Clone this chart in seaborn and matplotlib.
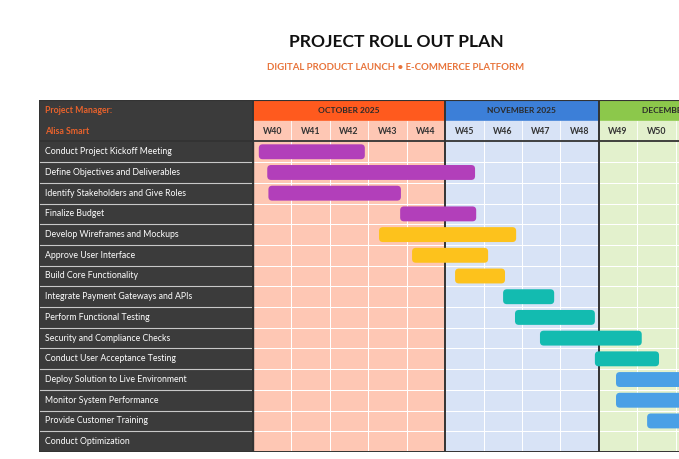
import numpy as np
import matplotlib
matplotlib.use("Agg")
import matplotlib.pyplot as plt
import seaborn as sns
from matplotlib.colors import ListedColormap
from matplotlib.patches import Rectangle, FancyBboxPatch

# data
tasks = ["Conduct Project Kickoff Meeting", "Define Objectives and Deliverables",
         "Identify Stakeholders and Give Roles", "Finalize Budget",
         "Develop Wireframes and Mockups", "Approve User Interface",
         "Build Core Functionality", "Integrate Payment Gateways and APIs",
         "Perform Functional Testing", "Security and Compliance Checks",
         "Conduct User Acceptance Testing", "Deploy Solution to Live Environment",
         "Monitor System Performance", "Provide Customer Training",
         "Conduct Optimization"]
start_wk = [0.15, 0.37, 0.40, 3.83, 3.28, 4.14, 5.26, 6.51, 6.82, 7.47, 8.90, 9.45, 9.45, 10.26, 11.30]
end_wk = [2.91, 5.78, 3.85, 5.81, 6.85, 6.12, 6.56, 7.84, 8.90, 10.12, 10.57, 11.60, 12.80, 12.00, 12.90]
phase = [0, 0, 0, 0, 1, 1, 1, 2, 2, 2, 2, 3, 3, 3, 3]
weeks = ["W40", "W41", "W42", "W43", "W44", "W45", "W46", "W47", "W48", "W49", "W50", "W51", "W52"]
months = ["OCTOBER 2025", "NOVEMBER 2025", "DECEMBER 2025"]
month_weeks = [5, 4, 4]

bar_cols = ["#b23fba", "#fdc21c", "#13bbb0", "#4aa0e6"]
month_cols = ["#ff5a1e", "#3c7fd8", "#8cc84b"]
light_cols = ["#fec7b4", "#d8e3f6", "#e3f1cd"]
panel = "#3b3b3b"
orange = "#e8622c"

month_idx = np.repeat(np.arange(len(months)), month_weeks)
grid = np.tile(month_idx, (len(tasks), 1))

fig = plt.figure(figsize=(6.79, 4.59), dpi=100)
ax = fig.add_axes([39/679, 7/459, 640/679, 352/459])
sns.heatmap(grid, ax=ax, cmap=ListedColormap(light_cols), vmin=-0.5, vmax=2.5,
            cbar=False, linewidths=0.6, linecolor="white",
            xticklabels=False, yticklabels=False)
x0 = -214/38.4
ax.set_xlim(x0, 11.09)
ax.set_ylim(len(tasks), -2)
ax.axis("off")

# label panel
ax.add_patch(Rectangle((x0, -2), -x0, len(tasks) + 2, color=panel, zorder=2))
for i in range(1, len(tasks)):
    ax.plot([x0, 0], [i, i], color="#c8c8c8", lw=0.8, zorder=3)
for i, t in enumerate(tasks):
    ax.text(x0 + 0.16, i + 0.5, t, color="white", fontsize=6.3, va="center",
            family="Lato", zorder=4)
ax.text(x0 + 0.16, -1.5, "Project Manager:", color=orange, fontsize=6.3,
        fontweight="bold", va="center", family="Lato", zorder=4)
ax.text(x0 + 0.16, -0.5, "Alisa Smart", color=orange, fontsize=6.3,
        fontweight="bold", va="center", family="Lato", zorder=4)

# header
pos = 0
for m, n, c, lc in zip(months, month_weeks, month_cols, light_cols):
    ax.add_patch(Rectangle((pos, -2), n, 1, color=c, zorder=2))
    ax.add_patch(Rectangle((pos, -1), n, 1, color=lc, zorder=2))
    ax.text(pos + n/2, -1.5, m, ha="center", va="center", fontsize=6,
            fontweight="bold", color="#2a2a2a", family="Lato", zorder=4)
    pos += n
for k, w in enumerate(weeks):
    ax.text(k + 0.5, -0.5, w, ha="center", va="center", fontsize=6.3,
            fontweight="bold", color="#333333", family="Lato", zorder=4)
    if k > 0:
        ax.plot([k, k], [-1, 0], color="white", lw=0.6, zorder=3)

# borders
for b in np.cumsum([0] + month_weeks[:-1]):
    ax.plot([b, b], [-2, len(tasks)], color="#333333", lw=1.4, zorder=5)
ax.plot([x0, 13], [0, 0], color="#333333", lw=1.3, zorder=5)
ax.plot([x0, 13], [len(tasks), len(tasks)], color="#333333", lw=1.4, zorder=5)
ax.plot([x0, 13], [-2, -2], color="#333333", lw=0.8, zorder=5)
ax.plot([x0, x0], [-2, len(tasks)], color="#333333", lw=1.4, zorder=5)

# bars
h = 0.72
for i in range(len(tasks)):
    ax.add_patch(FancyBboxPatch((start_wk[i], i + 0.5 - h/2), end_wk[i] - start_wk[i], h,
                                boxstyle="round,pad=0,rounding_size=0.1",
                                mutation_aspect=1.85, color=bar_cols[phase[i]],
                                lw=0, zorder=6))

fig.text(396/679, 1 - 42/459, "PROJECT ROLL OUT PLAN", ha="center", va="center",
         fontsize=12.6, fontweight="bold", family="Lato", color="#111111")
fig.text(396/679, 1 - 67/459, "DIGITAL PRODUCT LAUNCH \u2022 E-COMMERCE PLATFORM",
         ha="center", va="center", fontsize=6.9, fontweight="bold", family="Lato",
         color="#e8743b")

fig.savefig("out.png", dpi=100)
